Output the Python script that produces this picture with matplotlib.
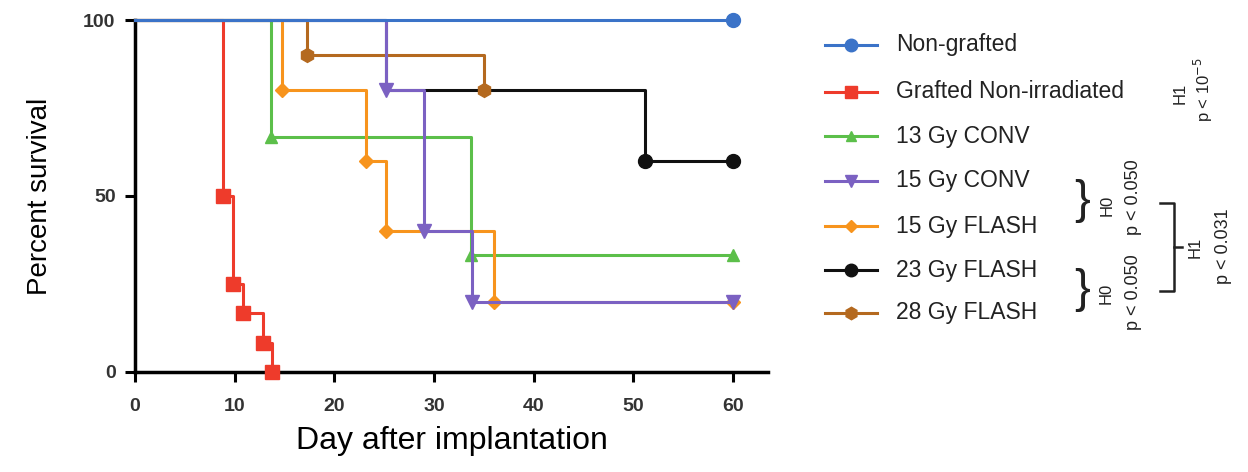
import matplotlib.pyplot as plt
from matplotlib.lines import Line2D

plt.rcParams['font.family'] = ['Liberation Sans', 'DejaVu Sans']

labels = ['Non-grafted', 'Grafted Non-irradiated', '13 Gy CONV', '15 Gy CONV',
          '15 Gy FLASH', '23 Gy FLASH', '28 Gy FLASH']
colors = ['#3b73c8', '#ee3b2b', '#5cbf4a', '#7b61c2', '#f7941d', '#111111', '#b4691f']
markers = ['o', 's', '^', 'v', 'D', 'o', 'h']

# Kaplan-Meier step points (day, percent survival)
days_nongrafted = [0, 60]
surv_nongrafted = [100, 100]
days_grafted = [0, 8.8, 9.8, 10.8, 12.8, 13.7]
surv_grafted = [100, 50, 25, 16.7, 8.3, 0]
days_13conv = [0, 13.6, 33.7, 60]
surv_13conv = [100, 66.7, 33.3, 33.3]
days_15conv = [0, 25.2, 29.0, 33.8, 60]
surv_15conv = [100, 80, 40, 20, 20]
days_15flash = [0, 14.7, 23.2, 25.2, 36.0, 60]
surv_15flash = [100, 80, 60, 40, 20, 20]
days_23flash = [0, 25.2, 51.2, 60]
surv_23flash = [100, 80, 60, 60]
days_28flash = [0, 17.3, 35.0]
surv_28flash = [100, 90, 80]

series = [(days_nongrafted, surv_nongrafted), (days_grafted, surv_grafted),
          (days_13conv, surv_13conv), (days_15conv, surv_15conv),
          (days_15flash, surv_15flash), (days_23flash, surv_23flash),
          (days_28flash, surv_28flash)]
zorders = [10, 4, 5, 7, 6, 3, 4]
msizes = [10, 10, 8, 10, 7, 10, 10]

fig = plt.figure(figsize=(12.48, 4.72), dpi=100)
ax = fig.add_axes([0.1082, 0.2119, 0.5072, 0.7457])

for (d, s), c, m, z, ms in zip(series, colors, markers, zorders, msizes):
    ax.step(d, s, where='post', color=c, lw=2.2, zorder=z, clip_on=False)
    pts = slice(2, None) if c == '#111111' else slice(1, None)  # first black drop hidden under purple
    ax.plot(d[pts], s[pts], ls='none', marker=m, color=c, ms=ms, zorder=z, clip_on=False)

ax.set_xlim(0, 63.5)
ax.set_ylim(0, 100)
ax.set_xticks([0, 10, 20, 30, 40, 50, 60])
ax.set_yticks([0, 50, 100])
for side in ['top', 'right']:
    ax.spines[side].set_visible(False)
for side in ['left', 'bottom']:
    ax.spines[side].set_linewidth(2.5)
ax.tick_params(width=2.2, length=7, labelsize=14)
ax.tick_params(axis='x', pad=12)
ax.tick_params(axis='y', pad=7)
for t in ax.get_xticklabels() + ax.get_yticklabels():
    t.set_fontweight('bold')
    t.set_color('#333333')
ax.set_xlabel('Day after implantation', fontsize=23, labelpad=8)
ax.set_ylabel('Percent survival', fontsize=20, labelpad=22)

# manual legend
W, H = 1248, 472
rows = [45, 92, 136, 181, 226, 270, 313]
for lab, c, m, ms, y in zip(labels, colors, markers, msizes, rows):
    fy = 1 - y / H
    fig.add_artist(Line2D([825 / W, 877 / W], [fy, fy], color=c, lw=2.2))
    fig.add_artist(Line2D([851 / W], [fy], marker=m, color=c, ms=ms * 0.9, ls='none'))
    fig.text(896 / W, fy, lab, fontsize=16.5, va='center', ha='left', color='#222222')

def ftxt(x, y, s, size=12, rot=90):
    fig.text(x / W, 1 - y / H, s, rotation=rot, ha='center', va='center',
             fontsize=size, color='#222222')

# statistics annotations
ftxt(1180, 93, 'H1')
ftxt(1203, 90, 'p < 10$^{-5}$')
ftxt(1082, 201, '}', size=34, rot=0)
ftxt(1107, 205, 'H0')
ftxt(1134, 197, 'p < 0.050', size=13)
ftxt(1082, 290, '}', size=34, rot=0)
ftxt(1106, 293, 'H0')
ftxt(1134, 292, 'p < 0.050', size=13)
bx = [1160 / W, 1174 / W, 1174 / W, 1160 / W]
by = [1 - 203 / H, 1 - 203 / H, 1 - 291 / H, 1 - 291 / H]
fig.add_artist(Line2D(bx, by, color='#222222', lw=1.8))
fig.add_artist(Line2D([1174 / W, 1182 / W], [1 - 247 / H, 1 - 247 / H], color='#222222', lw=1.8))
ftxt(1195, 247, 'H1')
ftxt(1223, 246, 'p < 0.031', size=13)

fig.savefig('out.png', dpi=100)
